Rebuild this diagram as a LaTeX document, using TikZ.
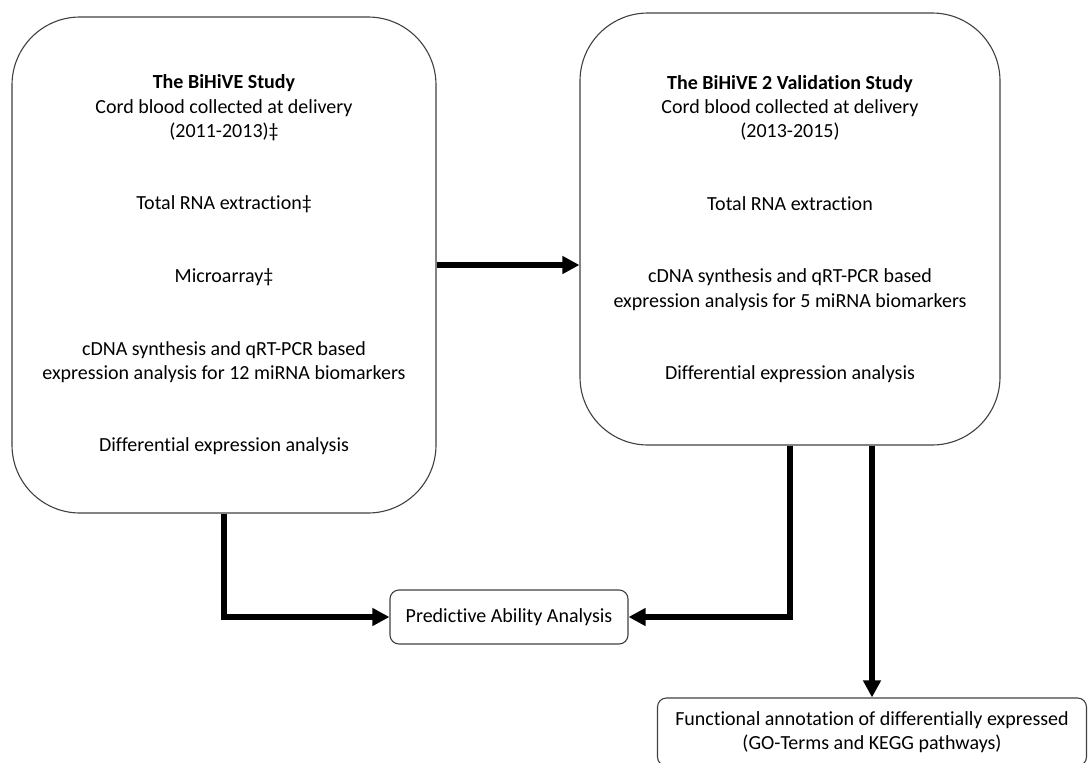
\documentclass[tikz,border=0pt]{standalone}
\usepackage{fontspec}
\setmainfont{Carlito}[Ligatures=NoCommon]
\usetikzlibrary{arrows.meta,positioning}

\tikzset{
  bigbox/.style={draw=black!75,line width=1.1pt,rounded corners=68pt,align=center,inner sep=0pt},
  smallbox/.style={draw=black!75,line width=1.1pt,rounded corners=9pt,align=center,inner sep=0pt},
  flow/.style={line width=5.5pt,-{Triangle[length=17pt,width=17pt]}}
}

\begin{document}
\begin{tikzpicture}[x=1pt,y=-1pt,font=\fontsize{20}{24.2}\selectfont]
\useasboundingbox (0,0) rectangle (1088,763);
\node[bigbox,minimum width=424pt,minimum height=496pt] (bihive) at (224,265)
  {\textbf{The BiHiVE Study}\\Cord blood collected at delivery\\(2011-2013)‡\\[48.4pt]
   Total RNA extraction‡\\[48.4pt]Microarray‡\\[48.4pt]
   cDNA synthesis and qRT-PCR based\\expression analysis for 12 miRNA biomarkers\\[48.4pt]
   Differential expression analysis};
\node[bigbox,minimum width=420pt,minimum height=432pt] (bihive2) at (790,229)
  {\textbf{The BiHiVE 2 Validation Study}\\Cord blood collected at delivery\\(2013-2015)\\[48.4pt]
   Total RNA extraction\\[48.4pt]
   cDNA synthesis and qRT-PCR based\\expression analysis for 5 miRNA biomarkers\\[48.4pt]
   Differential expression analysis};
\node[smallbox,minimum width=238pt,minimum height=54pt] (predict) at (509,617) {Predictive Ability Analysis};
\node[smallbox,minimum width=429pt,minimum height=68pt] (annot) at (872,732)
  {Functional annotation of differentially expressed\\(GO-Terms and KEGG pathways)};
% arrows
\draw[flow] (bihive.east) -- (bihive.east -| bihive2.west);
\draw[flow] (bihive.south) |- (predict.west);
\draw[flow] (bihive2.south) |- (predict.east);
\draw[flow] (bihive2.south -| annot.north) -- (annot.north);
\end{tikzpicture}
\end{document}
